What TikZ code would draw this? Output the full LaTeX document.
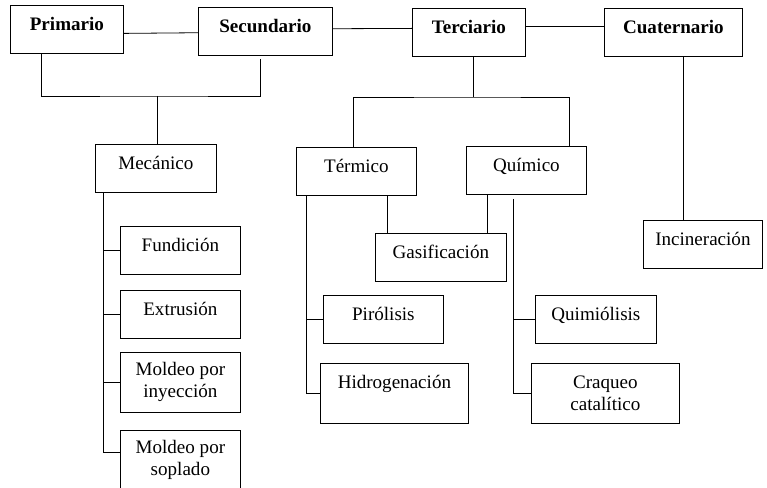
\documentclass[tikz,border=0pt]{standalone}
\usepackage{fontspec}
\setmainfont{Liberation Serif}
\newfontfamily\tnr{Liberation Serif}
\usepackage{tikz}
\usetikzlibrary{calc}
\tikzset{
 caja/.style={draw, line width=0.6pt, rectangle, anchor=north west, inner xsep=2pt, inner ysep=0pt, font=\tnr\fontsize{14.3}{16.5}\selectfont},
 unalinea/.style={caja, text height=18.75pt, text depth=17.25pt},
 doslineas/.style={caja, align=center, minimum height=45pt},
 titulo/.style={unalinea, font=\tnr\bfseries\fontsize{14.3}{16.5}\selectfont},
 linea/.style={black, line width=0.6pt}
}

\begin{document}
\begin{tikzpicture}[x=0.75pt, y=-0.75pt]
\useasboundingbox (0,0) rectangle (767,488);
\node[titulo, minimum width=84.75pt] (prim) at (10,5) {Primario};
\node[titulo, minimum width=100.5pt] (sec) at (198,7) {Secundario};
\node[titulo, minimum width=84.75pt] (ter) at (412,8) {Terciario};
\node[titulo, minimum width=103.5pt] (cua) at (604,8) {Cuaternario};
\node[unalinea, minimum width=90.75pt] (mec) at (95,144) {Mecánico};
\node[unalinea, minimum width=90pt] (term) at (296,147) {Térmico};
\node[unalinea, minimum width=90pt] (quim) at (466,146) {Químico};
\node[unalinea, minimum width=98.25pt] (gas) at (375,233) {Gasificación};
\node[unalinea, minimum width=89.25pt] (inc) at (643,220) {Incineración};
\node[unalinea, minimum width=90pt] (fund) at (120,226) {Fundición};
\node[unalinea, minimum width=90pt] (ext) at (120,290) {Extrusión};
\node[doslineas, minimum width=90pt] (iny) at (120,352) {Moldeo por\\inyección};
\node[doslineas, minimum width=90pt] (sop) at (120,430) {Moldeo por\\soplado};
\node[unalinea, minimum width=90pt] (piro) at (323,295) {Pirólisis};
\node[unalinea, minimum width=111pt, text depth=26.25pt] (hidro) at (320,363) {Hidrogenación};
\node[unalinea, minimum width=90.75pt] (quimi) at (535,295) {Quimiólisis};
\node[doslineas, minimum width=111pt] (craq) at (531,363) {Craqueo\\catalítico};

\draw[linea] ([yshift=-3pt]prim.east) -- ([yshift=-1pt]sec.west);
\draw[linea] ([yshift=2pt]sec.east) -- ([yshift=3pt]ter.west);
\draw[linea] ([yshift=4.5pt]ter.east) -- ([yshift=4.5pt]cua.west);

\coordinate (jmec) at (157,96);
\draw[linea] ($(prim.south west)+(31,0)$) |- (jmec) -| ($(sec.south west)+(62,3)$);
\draw[linea] (jmec) -- (jmec |- mec.north);

\coordinate (jter) at (473,97);
\draw[linea] (jter |- ter.south) -- (jter);
\draw[linea] ($(term.north west)+(57,0)$) |- (jter) -| ($(quim.north west)+(103,0)$);

\coordinate (jcua) at ($(cua.south)+(10,0)$);
\draw[linea] (jcua) -- (jcua |- inc.north);

\coordinate (mecdn) at ($(mec.south west)+(8,0)$);
\draw[linea] (mecdn) |- ($(sop.north west)+(0,22)$);
\foreach \n in {fund,ext,iny} {
 \draw[linea] (mecdn |- \n.west) -- (\n.west);
};

\coordinate (termdn) at ($(term.south west)+(10,0)$);
\draw[linea] (termdn) |- (hidro.west);
\draw[linea] (termdn |- piro.west) -- (piro.west);

\coordinate (quimdn) at ($(quim.south west)+(47,4)$);
\draw[linea] (quimdn) |- (craq.west);
\draw[linea] (quimdn |- quimi.west) -- (quimi.west);

\coordinate (tgas) at ($(term.south west)+(91,0)$);
\draw[linea] (tgas) -- (tgas |- gas.north);
\coordinate (qgas) at ($(quim.south west)+(21,0)$);
\draw[linea] (qgas) -- (qgas |- gas.north);
\end{tikzpicture}
\end{document}
